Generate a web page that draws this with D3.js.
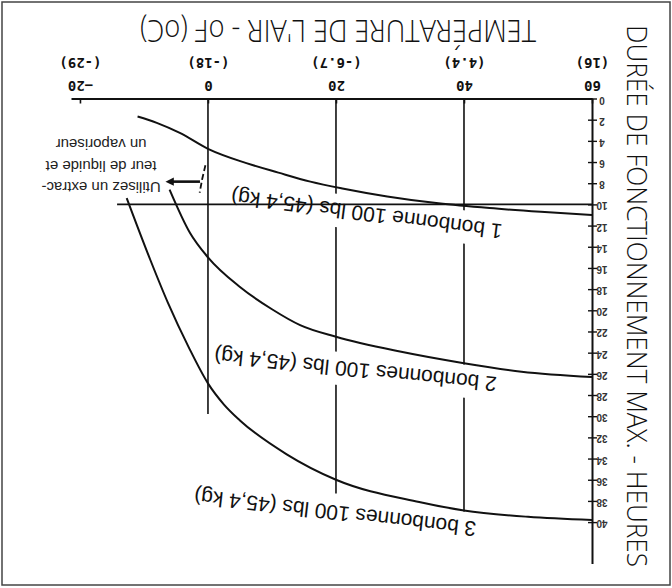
<!DOCTYPE html>
<html lang="fr">
<head>
<meta charset="UTF-8">
<title>Durée de fonctionnement max.</title>
<style>
  body { margin: 0; background: #fff; }
</style>
</head>
<body>
<svg id="chart" width="672" height="588"></svg>
<script src="https://cdn.jsdelivr.net/npm/d3@7/dist/d3.min.js"></script>
<script>
// axe des températures (°F) et équivalents en °C
var tempF = [-20, 0, 20, 40, 60];
var tempC = ["(-29)", "(-18)", "(-6.7)", "(4.4)", "(16)"];
// axe des heures
var hourTicks = [0, 2, 4, 6, 8, 10, 12, 14, 16, 18, 20, 22, 24, 26, 28, 30, 32, 34, 36, 38, 40];

// lignes verticales de la grille et leur fin (heures)
var gridF = [0, 20, 40];
var gridEnd = [29.8, 37.3, 39.1];
var limitHours = 10;

// 1 bonbonne
var c1Temp  = [-11, -8, -4.4, 0, 6, 11, 16, 21, 28, 36, 44, 52, 60];
var c1Hours = [1.7, 2.3, 3.25, 4.75, 6.1, 7.0, 7.85, 8.5, 9.25, 9.9, 10.35, 10.7, 11.0];
// 2 bonbonnes
var c2Temp  = [-6, -2.8, 0, 5, 10, 14.4, 20, 30, 40, 49, 60];
var c2Hours = [8.6, 12.7, 15.0, 17.8, 19.9, 21.4, 22.5, 23.9, 25.0, 25.8, 26.3];
// 3 bonbonnes
var c3Temp  = [-12.7, -9, -6.25, -3, 0, 2.5, 5, 12.3, 20, 33, 40, 50, 60];
var c3Hours = [9.4, 15.25, 19.3, 23.5, 26.9, 28.9, 30.4, 33.6, 36.0, 38.1, 38.9, 39.5, 39.8];

var curveNames = ["1 bonbonne 100 lbs (45,4 kg)", "2 bonbonnes 100 lbs (45,4 kg)", "3 bonbonnes 100 lbs (45,4 kg)"];
var noteLines = ["Utilisez un extrac-", "teur de liquide et", "un vaporiseur"];
var xTitle = "TEMPÉRATURE DE L'AIR - oF (oC)";
var yTitle = "DURÉE DE FONCTIONNEMENT MAX. - HEURES";

// le graphique est imprimé à l'envers (tourné de 180°)
var W = 672, H = 588;
var x = d3.scaleLinear().domain([-21.4, 60]).range([71, 592]);
var y = d3.scaleLinear().domain([0, 43.9]).range([98.5, 563.4]);

// ancrage des étiquettes des courbes : [temp, heures, angle]
var labelPos = [[46.1, 11.9, 187.4], [45.2, 26.3, 185.8], [42, 40.0, 186.7]];

var curves = [
  d3.zip(c1Temp, c1Hours),
  d3.zip(c2Temp, c2Hours),
  d3.zip(c3Temp, c3Hours)
];

var svg = d3.select("#chart").attr("viewBox", [0, 0, W, H]);
var ink = "#111";

svg.append("rect")
  .attr("x", 2).attr("y", 2)
  .attr("width", W - 4).attr("height", H - 5)
  .attr("fill", "#fff")
  .attr("stroke", "#444")
  .attr("stroke-width", 1.5);

var gridG = svg.append("g");
var bgG = svg.append("g");
var lineG = svg.append("g");
var axisG = svg.append("g");
var textG = svg.append("g");

// grille verticale
gridG.selectAll("line")
  .data(gridF)
  .join("line")
    .attr("x1", d => x(d)).attr("x2", d => x(d))
    .attr("y1", y(0))
    .attr("y2", (d, i) => y(gridEnd[i]))
    .attr("stroke", ink)
    .attr("stroke-width", 1.6);

// étiquettes des courbes (avec fond blanc qui coupe la grille)
curveNames.forEach(function (name, i) {
  var p = labelPos[i];
  var tr = `translate(${x(p[0])},${y(p[1])}) rotate(${p[2]})`;
  var t = textG.append("text")
    .attr("transform", tr)
    .attr("font-family", "Liberation Sans, Arial, sans-serif")
    .attr("font-size", 21)
    .attr("fill", ink)
    .text(name);
  var bb = t.node().getBBox();
  bgG.append("rect")
    .attr("transform", tr)
    .attr("x", bb.x - 2).attr("y", bb.y - 5)
    .attr("width", bb.width + 4).attr("height", bb.height + 10)
    .attr("fill", "#fff");
});

// limite de 10 heures
lineG.append("line")
  .attr("x1", x(-14.2)).attr("x2", x(60))
  .attr("y1", y(limitHours)).attr("y2", y(limitHours))
  .attr("stroke", ink)
  .attr("stroke-width", 1.8);

var line = d3.line()
  .x(d => x(d[0]))
  .y(d => y(d[1]))
  .curve(d3.curveMonotoneX);

lineG.selectAll("path.curve")
  .data(curves)
  .join("path")
    .attr("class", "curve")
    .attr("d", line)
    .attr("fill", "none")
    .attr("stroke", ink)
    .attr("stroke-width", 2);

// flèche vers la note
svg.append("defs").append("marker")
  .attr("id", "head")
  .attr("viewBox", "0 0 10 10")
  .attr("refX", 2).attr("refY", 5)
  .attr("markerWidth", 3.2).attr("markerHeight", 3.2)
  .attr("orient", "auto")
  .append("path")
    .attr("d", "M0,0L10,5L0,10z")
    .attr("fill", ink);

lineG.append("line")
  .attr("x1", x(-1.25)).attr("x2", x(-5.6))
  .attr("y1", y(7.85)).attr("y2", y(7.85))
  .attr("stroke", ink)
  .attr("stroke-width", 2.6)
  .attr("marker-end", "url(#head)");

lineG.append("path")
  .attr("d", d3.line()([[x(-0.4), y(6.3)], [x(-0.9), y(7.6)], [x(-1.3), y(8.9)]]))
  .attr("fill", "none")
  .attr("stroke", ink)
  .attr("stroke-width", 1.8)
  .attr("stroke-dasharray", "6,3");

// note
textG.selectAll("text.note")
  .data(noteLines)
  .join("text")
    .attr("class", "note")
    .attr("transform", (d, i) => `translate(${x(-16.7)},${y(7.9) - i * 21.5}) rotate(180)`)
    .attr("text-anchor", "middle")
    .attr("font-family", "Liberation Sans, Arial, sans-serif")
    .attr("font-size", 15)
    .attr("fill", "#222")
    .text(d => d);

// axe des températures
var xAxis = axisG.append("g")
  .attr("transform", `translate(0,${y(0)})`)
  .call(d3.axisTop(x)
    .tickValues(tempF)
    .tickFormat(d3.format("d"))
    .tickSizeInner(-5)
    .tickSizeOuter(0))
  .call(g => g.select(".domain").attr("stroke", ink).attr("stroke-width", 2))
  .call(g => g.selectAll(".tick line").attr("stroke", ink).attr("stroke-width", 1.6));

xAxis.selectAll(".tick text")
  .attr("y", null)
  .attr("dy", "0.35em")
  .attr("transform", "translate(0,-12.5) rotate(180)")
  .attr("font-family", "DejaVu Sans Mono, monospace")
  .attr("font-weight", "bold")
  .attr("font-size", 14)
  .attr("fill", ink);

xAxis.selectAll(".tick")
  .append("text")
    .attr("dy", "0.35em")
    .attr("transform", "translate(0,-36) rotate(180)")
    .attr("text-anchor", "middle")
    .attr("font-family", "DejaVu Sans Mono, monospace")
    .attr("font-weight", "bold")
    .attr("font-size", 14)
    .attr("fill", ink)
    .text((d, i) => tempC[i]);

// axe des heures
var yAxis = axisG.append("g")
  .attr("transform", `translate(${x(60)},0)`)
  .call(d3.axisRight(y)
    .tickValues(hourTicks)
    .tickSize(5)
    .tickSizeOuter(0))
  .call(g => g.select(".domain").attr("stroke", ink).attr("stroke-width", 2))
  .call(g => g.selectAll(".tick line").attr("x1", -4).attr("stroke", ink).attr("stroke-width", 1.4));

yAxis.selectAll(".tick text")
  .attr("x", null)
  .attr("dy", "0.35em")
  .attr("text-anchor", "middle")
  .attr("transform", "translate(10,1) rotate(180)")
  .attr("font-family", "Liberation Sans, Arial, sans-serif")
  .attr("font-weight", "bold")
  .attr("font-size", 10)
  .attr("fill", "#333");

// titres
textG.append("text")
  .attr("transform", "translate(338,20) rotate(180)")
  .attr("text-anchor", "middle")
  .attr("font-family", "Open Sans, sans-serif")
  .attr("font-weight", 300)
  .attr("font-size", 31)
  .attr("textLength", 396)
  .attr("lengthAdjust", "spacingAndGlyphs")
  .attr("fill", ink)
  .text(xTitle);

textG.append("text")
  .attr("transform", "translate(627,296) rotate(90)")
  .attr("text-anchor", "middle")
  .attr("font-family", "Open Sans, sans-serif")
  .attr("font-weight", 300)
  .attr("font-size", 27)
  .attr("textLength", 542)
  .attr("lengthAdjust", "spacingAndGlyphs")
  .attr("fill", ink)
  .text(yTitle);
</script>
</body>
</html>
